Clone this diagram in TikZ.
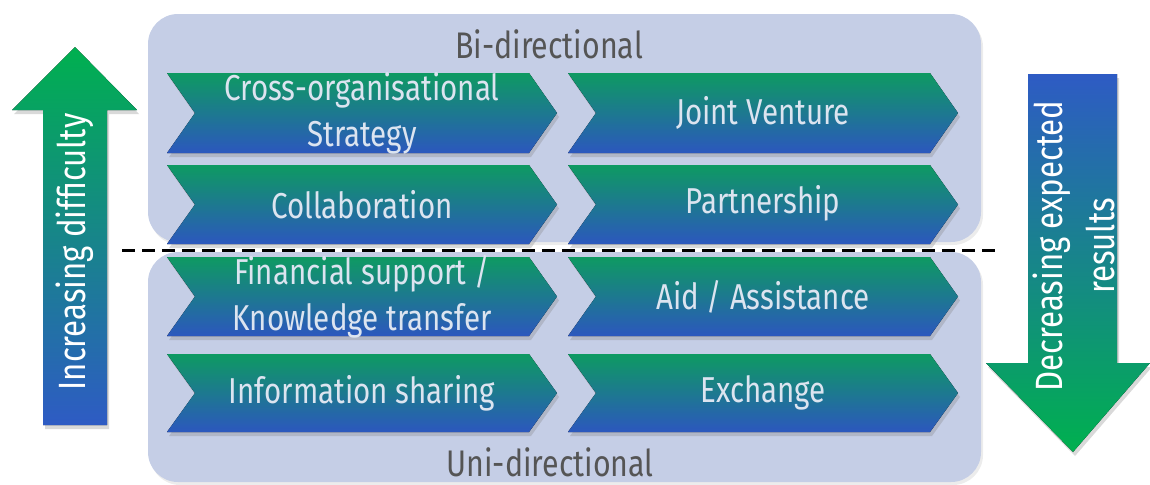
\documentclass[tikz,border=0pt]{standalone}
\usepackage{fontspec}
\setmainfont{Fira Sans}[FakeStretch=0.82]
\usetikzlibrary{shadows,calc}
\definecolor{panel}{HTML}{C5CEE6}
\definecolor{green1}{HTML}{0E9A62}
\definecolor{blue1}{HTML}{2C57BE}
\definecolor{arrowgreen}{HTML}{00B04F}
\definecolor{arrowblue}{HTML}{2E5BC4}
\definecolor{chevtxt}{HTML}{DCE4F0}
\definecolor{paneltxt}{HTML}{555555}
\tikzset{
  panelbox/.style={fill=panel, rounded corners=15pt,
    drop shadow={opacity=0.15, shadow xshift=1pt, shadow yshift=-1.5pt}},
  chevfill/.style={top color=green1, bottom color=blue1,
    drop shadow={opacity=0.3, shadow xshift=1pt, shadow yshift=-2pt}},
  chevtext/.style={text=chevtxt, align=center, font=\fontsize{18}{23}\selectfont, inner sep=0pt},
  paneltext/.style={text=paneltxt, font=\fontsize{18.5}{22}\selectfont, inner sep=0pt},
  arrowtext/.style={text=white, align=center, font=\fontsize{19}{26}\selectfont, inner sep=0pt},
}
% chevron: name, left x, top y, tip x, bottom y, label
\newcommand\chevron[6]{%
  \fill[chevfill] (#2,#3) -- (#4-28,#3) -- (#4,{(#3+#5)/2}) -- (#4-28,#5)
    -- (#2,#5) -- (#2+28,{(#3+#5)/2}) -- cycle;
  \node[chevtext] (#1) at ({(#2+#4)/2},{(#3+#5)/2}) {#6};}
\begin{document}
\begin{tikzpicture}[x=0.5pt,y=-0.5pt]
\useasboundingbox (0,0) rectangle (1150,484);
% two panels
\fill[panelbox] (148,14) rectangle (981,242);
\fill[panelbox] (148,252) rectangle (981,482);
\node[paneltext] (bi) at (549,44) {Bi-directional};
\node[paneltext] (uni) at (550,462) {Uni-directional};
% chevrons
\chevron{cos}{167}{73}{557}{153}{Cross-organisational\\Strategy}
\chevron{jv}{568}{73}{958}{153}{Joint Venture}
\chevron{col}{167}{165}{557}{244}{Collaboration}
\chevron{par}{568}{165}{958}{244}{\strut Partnership}
\chevron{fin}{167}{257}{557}{336}{Financial support /\\Knowledge transfer}
\chevron{aid}{568}{257}{958}{336}{Aid / Assistance}
\chevron{inf}{167}{354}{557}{432}{Information sharing}
\chevron{exc}{568}{354}{958}{432}{Exchange}
% divider
\coordinate (dl) at (122,250);
\coordinate (dr) at (1000,250);
\draw[line width=1.5pt, dash pattern=on 6.5pt off 3.5pt] (dl) -- (dr);
% increasing difficulty arrow
\fill[bottom color=arrowblue, top color=arrowgreen,
      drop shadow={opacity=0.3, shadow xshift=1pt, shadow yshift=-2pt}]
  (43,425) -- (43,110) -- (12,110) -- (75,47) -- (137,110) -- (107,110) -- (107,425) -- cycle;
\node[arrowtext, rotate=90] (inc) at (75,252) {Increasing difficulty};
% decreasing expected results arrow
\fill[top color=arrowblue, bottom color=arrowgreen,
      drop shadow={opacity=0.3, shadow xshift=1pt, shadow yshift=-2pt}]
  (1028,74) -- (1117,74) -- (1117,363) -- (1150,363) -- (1073,452) -- (986,363) -- (1028,363) -- cycle;
\node[arrowtext, rotate=90] (dec) at (1074,246) {Decreasing expected\\results};
\end{tikzpicture}
\end{document}
